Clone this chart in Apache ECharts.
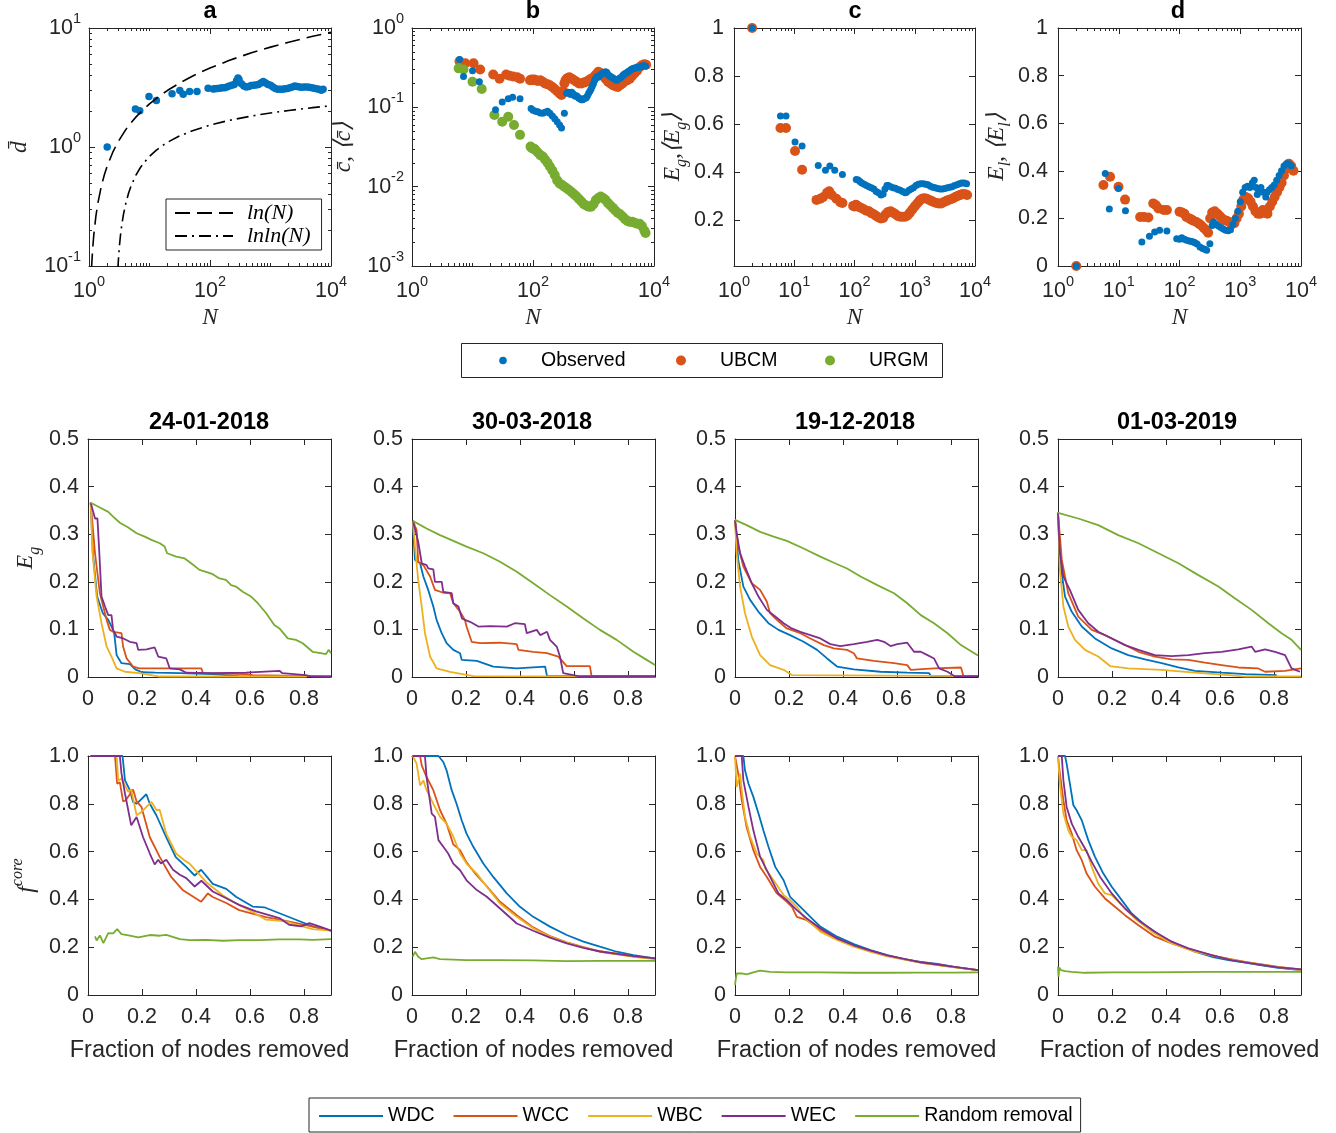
<!DOCTYPE html>
<html><head><meta charset="utf-8">
<script src="https://cdn.jsdelivr.net/npm/echarts@6/dist/echarts.min.js"></script>
<style>html,body{margin:0;padding:0;background:#fff}#c{width:1336px;height:1133px}</style>
</head><body><div id="c"></div><script>
// ---------------- DATA ----------------
// panel a: mean shortest path length vs N
const aObserved = [[2,1.0],[5.85,2.09],[6.9,2.02],[9.8,2.66],[13,2.46],[23.6,2.8],[31.7,2.98],[36,2.78],[46,2.93],[61,2.93],[93,3.12],[113,3.07],
 [120,3.08],[132,3.1],[146,3.12],[158,3.15],[174,3.15],[190,3.2],[209,3.25],[229,3.3],[251,3.35],[275,3.6],[290,3.8],[302,3.7],[331,3.4],[363,3.25],
 [398,3.2],[437,3.22],[479,3.28],[525,3.3],[575,3.32],[631,3.35],[692,3.45],[759,3.55],[832,3.45],[912,3.35],[1000,3.3],[1096,3.2],[1202,3.1],
 [1318,3.06],[1445,3.05],[1585,3.06],[1738,3.08],[1905,3.1],[2089,3.15],[2291,3.2],[2512,3.25],[2754,3.22],[3020,3.2],[3311,3.18],[3631,3.2],
 [3981,3.2],[4365,3.18],[4786,3.15],[5248,3.12],[5754,3.08],[6310,3.05],[6918,3.0],[7400,3.05]];
const lnSamplesN = [1.1,1.15,1.2,1.3,1.4,1.6,1.8,2,2.5,3,4,5,6,8,10,15,20,30,50,70,100,200,300,500,1000,2000,5000,10000];
const lnlnSamplesN = [3.0,3.02,3.05,3.1,3.15,3.2,3.3,3.4,3.5,3.7,4,4.5,5,6,7,8,10,13,16,20,30,50,100,200,500,1000,2000,5000,10000];

// panel b: clustering
const bObserved = [[6.1,0.40],[7.1,0.245],[10,0.29],[13,0.21],[24,0.093],[31,0.117],[39,0.128],[46,0.134],[61,0.128],
 [93,0.097],[100,0.092],[110,0.089],[120,0.088],[132,0.085],[145,0.084],[158,0.087],[174,0.089],[190,0.084],[209,0.078],[229,0.072],[251,0.066],
 [275,0.06],[296,0.055],[330,0.084],[360,0.15],[380,0.155],[398,0.15],[420,0.145],[437,0.155],[460,0.148],[479,0.142],[500,0.138],[525,0.14],
 [550,0.135],[575,0.13],[600,0.128],[631,0.125],[660,0.125],[692,0.128],[725,0.13],[759,0.132],[795,0.14],[832,0.15],[870,0.16],[912,0.17],
 [955,0.185],[1000,0.2],[1047,0.22],[1096,0.235],[1148,0.245],[1202,0.24],[1259,0.25],[1318,0.26],[1380,0.265],[1445,0.27],[1514,0.275],
 [1585,0.28],[1660,0.275],[1738,0.26],[1820,0.25],[1905,0.245],[1995,0.24],[2089,0.235],[2188,0.23],[2291,0.225],[2399,0.22],[2512,0.225],
 [2630,0.23],[2754,0.235],[2884,0.24],[3020,0.25],[3162,0.26],[3311,0.265],[3467,0.27],[3631,0.275],[3802,0.285],[3981,0.29],[4169,0.3],
 [4365,0.305],[4571,0.31],[4786,0.31],[5012,0.315],[5248,0.32],[5495,0.315],[5754,0.32],[6026,0.325],[6310,0.33],[6607,0.335],[6918,0.335],[7244,0.33]];
const bUBCM = [[6.1,0.38],[7.6,0.36],[10.4,0.36],[13.4,0.30],[22,0.26],[28,0.23],[36,0.26],[41,0.25],[47,0.245],[55,0.24],[61,0.23],
 [89,0.22],[95,0.225],[100,0.22],[105,0.225],[110,0.22],[120,0.215],[132,0.22],[145,0.21],[158,0.2],[174,0.195],[190,0.19],[209,0.18],[229,0.17],
 [251,0.16],[275,0.15],[296,0.143],[315,0.16],[330,0.2],[345,0.22],[363,0.23],[380,0.235],[398,0.24],[437,0.23],[479,0.22],[525,0.21],[575,0.2],
 [631,0.2],[692,0.205],[759,0.21],[832,0.22],[912,0.23],[1000,0.24],[1096,0.26],[1202,0.28],[1318,0.27],[1445,0.25],[1585,0.23],[1738,0.21],
 [1905,0.2],[2089,0.19],[2291,0.185],[2512,0.18],[2754,0.19],[3020,0.2],[3311,0.215],[3631,0.22],[3981,0.23],[4365,0.25],[4786,0.27],[5248,0.29],
 [5754,0.32],[6310,0.34],[6918,0.35],[7400,0.345]];
const bURGM = [[5.9,0.31],[7.1,0.30],[10,0.21],[14.2,0.17],[23,0.08],[31,0.066],[39,0.076],[48.5,0.06],[61,0.045],
 [91,0.032],[95,0.031],[100,0.03],[105,0.03],[110,0.029],[120,0.027],[132,0.025],[145,0.024],[158,0.022],[174,0.02],[190,0.018],[209,0.016],
 [229,0.014],[251,0.012],[275,0.011],[302,0.0105],[331,0.01],[363,0.0095],[398,0.009],[437,0.0085],[479,0.008],[525,0.0075],[575,0.007],
 [631,0.0065],[692,0.006],[759,0.0058],[832,0.0056],[912,0.0056],[1000,0.006],[1096,0.0068],[1202,0.0072],[1318,0.0075],[1445,0.0072],
 [1585,0.0068],[1738,0.0062],[1905,0.0058],[2089,0.0054],[2291,0.005],[2512,0.0047],[2754,0.0045],[3020,0.0042],[3311,0.0039],[3631,0.0037],
 [3981,0.0036],[4365,0.0036],[4786,0.0035],[5248,0.0034],[5754,0.0034],[6310,0.0032],[6918,0.0028],[7244,0.0026]];

// panel c: global efficiency
const cObserved = [[2,1.0],[5.9,0.634],[7.3,0.634],[10.3,0.526],[13.5,0.509],[25,0.428],[33,0.408],[39,0.426],[47,0.408],[63,0.391],
 [107,0.37],[115,0.368],[123,0.362],[132,0.355],[145,0.35],[158,0.345],[174,0.34],[190,0.335],[209,0.33],[229,0.32],[251,0.315],[275,0.305],
 [299,0.31],[320,0.33],[345,0.345],[363,0.345],[398,0.34],[437,0.335],[479,0.333],[525,0.328],[575,0.325],[631,0.32],[692,0.315],[730,0.317],
 [800,0.325],[870,0.33],[950,0.335],[1047,0.345],[1148,0.35],[1259,0.352],[1380,0.352],[1514,0.35],[1660,0.348],[1820,0.342],[1995,0.338],
 [2188,0.335],[2399,0.332],[2630,0.33],[2884,0.33],[3162,0.332],[3467,0.335],[3802,0.338],[4169,0.34],[4571,0.345],[5012,0.348],[5495,0.352],
 [6026,0.355],[6607,0.355],[7244,0.352]];
const cUBCM = [[2,1.0],[5.9,0.584],[7.3,0.584],[10.3,0.488],[13.5,0.41],[23.4,0.285],[27,0.29],[30,0.296],[35,0.315],[38,0.321],[42,0.305],
 [50,0.29],[58,0.275],[63,0.272],[95,0.26],[100,0.258],[105,0.265],[110,0.262],[120,0.255],[132,0.25],[145,0.245],[158,0.24],[174,0.238],
 [190,0.23],[209,0.225],[229,0.218],[251,0.212],[275,0.208],[299,0.21],[330,0.225],[363,0.235],[398,0.238],[437,0.232],[479,0.225],[525,0.218],
 [575,0.215],[631,0.215],[692,0.215],[759,0.22],[832,0.232],[912,0.245],[1000,0.258],[1096,0.27],[1202,0.282],[1318,0.29],[1445,0.292],
 [1585,0.29],[1738,0.285],[1905,0.28],[2089,0.275],[2291,0.272],[2512,0.27],[2754,0.27],[3020,0.275],[3311,0.28],[3631,0.285],[3981,0.288],
 [4365,0.292],[4786,0.298],[5248,0.302],[5754,0.306],[6310,0.31],[6918,0.308],[7400,0.305]];

// panel d: local efficiency
const dObserved = [[2,0],[6,0.389],[7,0.239],[9.9,0.326],[12.9,0.232],[24,0.101],[32,0.125],[39,0.143],[47,0.15],[62,0.147],
 [90,0.115],[100,0.112],[109,0.119],[120,0.112],[131,0.108],[145,0.105],[158,0.103],[169,0.101],[180,0.098],[195,0.092],[218,0.08],[240,0.074],
 [260,0.07],[280,0.066],[316,0.094],[345,0.17],[363,0.185],[398,0.175],[437,0.168],[479,0.162],[525,0.155],[575,0.15],[631,0.148],[692,0.152],
 [759,0.175],[832,0.2],[912,0.23],[1000,0.27],[1096,0.31],[1202,0.33],[1318,0.335],[1445,0.33],[1585,0.35],[1700,0.36],[1820,0.33],[1905,0.3],
 [2000,0.31],[2189,0.33],[2400,0.31],[2630,0.29],[2754,0.31],[3020,0.32],[3311,0.33],[3631,0.34],[3981,0.36],[4365,0.38],[4786,0.4],[5248,0.42],
 [5754,0.43],[6310,0.43],[6918,0.42]];
const dUBCM = [[2,0],[5.6,0.34],[7.2,0.375],[9.9,0.333],[12.7,0.279],[22.5,0.206],[26,0.206],[30.7,0.204],[37,0.263],[41,0.255],[45,0.242],
 [55,0.235],[62,0.235],[100,0.228],[110,0.225],[120,0.22],[130,0.206],[145,0.2],[158,0.195],[170,0.19],[190,0.185],[209,0.178],[229,0.17],
 [251,0.16],[275,0.15],[296,0.14],[320,0.2],[345,0.225],[380,0.23],[420,0.22],[460,0.21],[500,0.2],[550,0.192],[600,0.19],[660,0.185],[720,0.175],
 [800,0.18],[870,0.2],[950,0.22],[1040,0.25],[1130,0.28],[1230,0.29],[1350,0.285],[1480,0.27],[1620,0.25],[1780,0.23],[1950,0.22],[2140,0.22],
 [2350,0.235],[2570,0.225],[2800,0.22],[3070,0.25],[3360,0.27],[3680,0.29],[4030,0.31],[4400,0.33],[4800,0.35],[5250,0.38],[5750,0.41],
 [6300,0.43],[6900,0.42],[7500,0.4]];

// middle row: E_g vs fraction removed
const e1WDC = [[0.01,0.366],[0.018,0.26],[0.034,0.169],[0.055,0.134],[0.075,0.12],[0.088,0.105],[0.097,0.092],[0.106,0.046],[0.124,0.029],[0.155,0.027],[0.175,0.016],[0.2,0.01],[0.25,0.009],[0.34,0.008],[0.46,0.006],[0.56,0.002],[0.6,0.001]];
const e1WCC = [[0.01,0.366],[0.026,0.26],[0.044,0.176],[0.069,0.12],[0.081,0.099],[0.093,0.095],[0.124,0.092],[0.13,0.064],[0.143,0.039],[0.167,0.022],[0.19,0.018],[0.29,0.018],[0.296,0.015],[0.42,0.018],[0.426,0.008],[0.585,0.006],[0.61,0.004],[0.83,0.002],[0.9,0.001]];
const e1WBC = [[0.01,0.366],[0.017,0.26],[0.032,0.169],[0.05,0.113],[0.069,0.064],[0.087,0.043],[0.106,0.018],[0.137,0.011],[0.19,0.008],[0.266,0.001],[0.81,0.001]];
const e1WEC = [[0.01,0.366],[0.026,0.333],[0.035,0.333],[0.042,0.26],[0.05,0.169],[0.063,0.148],[0.075,0.13],[0.087,0.13],[0.093,0.099],[0.106,0.085],[0.131,0.081],[0.155,0.074],[0.18,0.071],[0.186,0.057],[0.217,0.058],[0.247,0.062],[0.26,0.043],[0.29,0.039],[0.303,0.018],[0.34,0.016],[0.364,0.009],[0.462,0.008],[0.585,0.009],[0.709,0.013],[0.72,0.008],[0.806,0.004],[0.83,0.001],[0.9,0.001]];
const e1Random = [[0.01,0.366],[0.044,0.356],[0.075,0.347],[0.093,0.337],[0.118,0.324],[0.149,0.314],[0.18,0.302],[0.21,0.295],[0.235,0.288],[0.266,0.281],[0.284,0.274],[0.293,0.26],[0.327,0.253],[0.358,0.249],[0.382,0.239],[0.413,0.225],[0.437,0.221],[0.462,0.216],[0.487,0.207],[0.511,0.204],[0.53,0.193],[0.548,0.19],[0.573,0.179],[0.604,0.169],[0.629,0.155],[0.66,0.134],[0.69,0.109],[0.709,0.102],[0.74,0.081],[0.77,0.078],[0.795,0.071],[0.832,0.053],[0.862,0.05],[0.881,0.048],[0.891,0.057],[0.9,0.05]];

const e2WDC = [[0.003,0.328],[0.011,0.246],[0.03,0.239],[0.042,0.211],[0.06,0.183],[0.079,0.148],[0.091,0.12],[0.11,0.092],[0.128,0.071],[0.153,0.057],[0.178,0.05],[0.184,0.036],[0.24,0.034],[0.301,0.022],[0.388,0.018],[0.493,0.022],[0.5,0.002],[0.61,0.002]];
const e2WCC = [[0.003,0.328],[0.017,0.309],[0.023,0.242],[0.042,0.235],[0.067,0.211],[0.085,0.183],[0.116,0.177],[0.141,0.176],[0.153,0.155],[0.178,0.137],[0.196,0.12],[0.202,0.106],[0.221,0.074],[0.252,0.071],[0.326,0.072],[0.388,0.069],[0.394,0.057],[0.449,0.053],[0.5,0.05],[0.542,0.043],[0.573,0.023],[0.659,0.023],[0.665,0.002],[0.9,0.002]];
const e2WBC = [[0.003,0.328],[0.011,0.274],[0.023,0.204],[0.036,0.148],[0.048,0.092],[0.067,0.043],[0.091,0.018],[0.141,0.011],[0.227,0.002],[0.9,0.001]];
const e2WEC = [[0.003,0.328],[0.015,0.302],[0.023,0.284],[0.03,0.26],[0.036,0.239],[0.054,0.235],[0.06,0.228],[0.079,0.226],[0.085,0.2],[0.11,0.2],[0.116,0.179],[0.147,0.176],[0.153,0.155],[0.172,0.148],[0.185,0.123],[0.196,0.12],[0.215,0.116],[0.246,0.106],[0.289,0.107],[0.351,0.106],[0.381,0.113],[0.418,0.111],[0.425,0.092],[0.462,0.099],[0.475,0.088],[0.5,0.095],[0.511,0.078],[0.536,0.064],[0.548,0.043],[0.56,0.008],[0.616,0.002],[0.9,0.002]];
const e2Random = [[0.003,0.328],[0.054,0.312],[0.104,0.298],[0.153,0.286],[0.202,0.274],[0.264,0.26],[0.326,0.242],[0.388,0.221],[0.449,0.197],[0.511,0.172],[0.573,0.148],[0.635,0.123],[0.696,0.099],[0.758,0.078],[0.82,0.053],[0.869,0.036],[0.9,0.025]];

const e3WDC = [[0,0.33],[0.012,0.246],[0.031,0.19],[0.056,0.162],[0.087,0.137],[0.124,0.113],[0.161,0.099],[0.204,0.088],[0.254,0.074],[0.304,0.057],[0.341,0.039],[0.378,0.022],[0.44,0.016],[0.539,0.011],[0.638,0.009],[0.719,0.008],[0.725,0.002],[0.8,0.002]];
const e3WCC = [[0,0.33],[0.012,0.274],[0.031,0.232],[0.062,0.197],[0.093,0.183],[0.118,0.158],[0.13,0.134],[0.155,0.12],[0.192,0.102],[0.242,0.092],[0.279,0.081],[0.329,0.067],[0.366,0.06],[0.415,0.057],[0.44,0.05],[0.452,0.039],[0.514,0.034],[0.589,0.029],[0.638,0.025],[0.651,0.015],[0.737,0.018],[0.837,0.02],[0.846,0.002],[0.9,0.002]];
const e3WBC = [[0,0.33],[0.006,0.26],[0.019,0.19],[0.037,0.134],[0.062,0.085],[0.093,0.046],[0.13,0.025],[0.18,0.015],[0.211,0.004],[0.9,0.002]];
const e3WEC = [[0,0.33],[0.006,0.302],[0.019,0.26],[0.037,0.232],[0.062,0.197],[0.087,0.169],[0.118,0.141],[0.149,0.127],[0.18,0.113],[0.21,0.102],[0.242,0.095],[0.279,0.088],[0.316,0.081],[0.353,0.069],[0.39,0.065],[0.44,0.069],[0.489,0.074],[0.527,0.078],[0.552,0.074],[0.576,0.065],[0.601,0.069],[0.638,0.072],[0.663,0.053],[0.688,0.053],[0.713,0.046],[0.737,0.039],[0.756,0.018],[0.787,0.011],[0.812,0.002],[0.9,0.002]];
const e3Random = [[0,0.33],[0.043,0.319],[0.093,0.305],[0.143,0.295],[0.192,0.286],[0.254,0.27],[0.316,0.253],[0.366,0.24],[0.415,0.228],[0.465,0.211],[0.527,0.193],[0.589,0.176],[0.638,0.155],[0.688,0.13],[0.737,0.113],[0.787,0.092],[0.837,0.067],[0.9,0.045]];

const e4WDC = [[0,0.345],[0.007,0.246],[0.026,0.169],[0.051,0.137],[0.088,0.106],[0.137,0.081],[0.199,0.06],[0.26,0.046],[0.322,0.037],[0.384,0.029],[0.446,0.02],[0.507,0.013],[0.606,0.009],[0.693,0.006],[0.81,0.004]];
const e4WCC = [[0,0.345],[0.014,0.246],[0.038,0.176],[0.075,0.127],[0.125,0.099],[0.174,0.088],[0.236,0.071],[0.298,0.053],[0.359,0.043],[0.421,0.037],[0.483,0.036],[0.544,0.03],[0.606,0.025],[0.668,0.02],[0.742,0.018],[0.767,0.011],[0.841,0.013],[0.9,0.018]];
const e4WBC = [[0,0.345],[0.007,0.225],[0.02,0.148],[0.038,0.106],[0.063,0.078],[0.1,0.057],[0.149,0.043],[0.193,0.023],[0.26,0.018],[0.384,0.015],[0.507,0.009],[0.631,0.004],[0.693,0.001],[0.9,0.001]];
const e4WEC = [[0,0.345],[0.007,0.26],[0.02,0.211],[0.044,0.183],[0.075,0.141],[0.112,0.113],[0.149,0.095],[0.199,0.081],[0.248,0.067],[0.298,0.057],[0.359,0.046],[0.421,0.044],[0.483,0.046],[0.544,0.05],[0.606,0.053],[0.668,0.058],[0.717,0.064],[0.73,0.053],[0.767,0.058],[0.804,0.053],[0.841,0.046],[0.865,0.018],[0.896,0.011]];
const e4Random = [[0,0.345],[0.075,0.333],[0.149,0.319],[0.223,0.298],[0.298,0.281],[0.372,0.26],[0.446,0.239],[0.52,0.214],[0.594,0.19],[0.656,0.165],[0.717,0.141],[0.779,0.113],[0.828,0.092],[0.865,0.078],[0.9,0.057]];

// bottom row: f_core vs fraction removed
const f1WDC = [[0.01,1.0],[0.128,1.0],[0.137,0.898],[0.155,0.857],[0.167,0.808],[0.18,0.80],[0.216,0.84],[0.229,0.80],[0.254,0.75],[0.29,0.66],[0.325,0.577],[0.364,0.536],[0.395,0.50],[0.419,0.524],[0.462,0.465],[0.512,0.444],[0.548,0.411],[0.61,0.37],[0.653,0.367],[0.709,0.342],[0.77,0.315],[0.832,0.287],[0.9,0.269]];
const f1WCC = [[0.01,1.0],[0.1,1.0],[0.108,0.884],[0.118,0.89],[0.13,0.81],[0.14,0.815],[0.167,0.86],[0.18,0.81],[0.198,0.787],[0.229,0.66],[0.266,0.577],[0.308,0.494],[0.352,0.438],[0.39,0.411],[0.419,0.39],[0.444,0.425],[0.462,0.41],[0.512,0.385],[0.56,0.355],[0.598,0.344],[0.659,0.326],[0.733,0.31],[0.807,0.292],[0.9,0.269]];
const f1WBC = [[0.01,1.0],[0.106,1.0],[0.112,0.898],[0.124,0.905],[0.149,0.85],[0.16,0.86],[0.18,0.752],[0.198,0.766],[0.235,0.808],[0.254,0.773],[0.265,0.776],[0.29,0.674],[0.327,0.591],[0.358,0.563],[0.377,0.549],[0.438,0.472],[0.5,0.416],[0.548,0.383],[0.61,0.347],[0.659,0.315],[0.733,0.308],[0.782,0.29],[0.832,0.276],[0.9,0.269]];
const f1WEC = [[0.01,1.0],[0.118,1.0],[0.124,0.927],[0.137,0.843],[0.16,0.71],[0.18,0.745],[0.204,0.66],[0.229,0.592],[0.247,0.546],[0.26,0.566],[0.27,0.55],[0.29,0.566],[0.315,0.524],[0.34,0.503],[0.364,0.489],[0.395,0.454],[0.42,0.478],[0.462,0.433],[0.512,0.405],[0.56,0.377],[0.622,0.35],[0.709,0.322],[0.745,0.294],[0.789,0.287],[0.82,0.301],[0.856,0.287],[0.9,0.269]];
const f1Random = [[0.026,0.245],[0.032,0.228],[0.044,0.249],[0.057,0.217],[0.075,0.259],[0.093,0.258],[0.108,0.276],[0.124,0.255],[0.155,0.248],[0.186,0.241],[0.229,0.251],[0.266,0.248],[0.29,0.252],[0.34,0.234],[0.377,0.23],[0.438,0.231],[0.5,0.227],[0.56,0.23],[0.635,0.23],[0.709,0.233],[0.782,0.233],[0.832,0.231],[0.9,0.234]];

const f2WDC = [[0.003,1.0],[0.098,1.0],[0.116,0.975],[0.128,0.94],[0.147,0.857],[0.165,0.80],[0.184,0.731],[0.202,0.675],[0.227,0.62],[0.264,0.55],[0.301,0.494],[0.351,0.425],[0.4,0.369],[0.449,0.327],[0.511,0.286],[0.573,0.251],[0.635,0.223],[0.696,0.202],[0.758,0.181],[0.82,0.167],[0.9,0.153]];
const f2WCC = [[0.003,1.0],[0.03,1.0],[0.036,0.961],[0.054,0.912],[0.079,0.857],[0.104,0.773],[0.128,0.717],[0.153,0.63],[0.178,0.606],[0.202,0.555],[0.24,0.5],[0.277,0.455],[0.326,0.39],[0.388,0.334],[0.449,0.283],[0.511,0.246],[0.573,0.22],[0.635,0.2],[0.696,0.183],[0.82,0.162],[0.9,0.152]];
const f2WBC = [[0.003,1.0],[0.017,0.968],[0.03,0.877],[0.042,0.898],[0.054,0.857],[0.079,0.80],[0.104,0.745],[0.128,0.717],[0.153,0.662],[0.178,0.592],[0.202,0.55],[0.24,0.508],[0.277,0.453],[0.326,0.383],[0.388,0.327],[0.449,0.279],[0.511,0.244],[0.573,0.219],[0.635,0.199],[0.696,0.181],[0.82,0.16],[0.9,0.15]];
const f2WEC = [[0.003,1.0],[0.048,1.0],[0.054,0.912],[0.073,0.759],[0.085,0.745],[0.098,0.648],[0.116,0.62],[0.134,0.592],[0.153,0.55],[0.178,0.522],[0.202,0.48],[0.24,0.439],[0.277,0.411],[0.326,0.362],[0.388,0.299],[0.449,0.269],[0.511,0.24],[0.573,0.216],[0.635,0.197],[0.696,0.182],[0.82,0.163],[0.9,0.153]];
const f2Random = [[0.003,0.16],[0.011,0.181],[0.023,0.16],[0.036,0.15],[0.054,0.153],[0.079,0.157],[0.104,0.15],[0.202,0.146],[0.326,0.146],[0.449,0.145],[0.573,0.142],[0.696,0.143],[0.9,0.143]];

const f3WDC = [[0,1.0],[0.031,1.0],[0.037,0.94],[0.05,0.884],[0.068,0.829],[0.087,0.759],[0.105,0.689],[0.124,0.62],[0.149,0.536],[0.18,0.48],[0.204,0.411],[0.242,0.369],[0.279,0.327],[0.316,0.286],[0.378,0.244],[0.44,0.213],[0.502,0.188],[0.564,0.167],[0.626,0.15],[0.688,0.139],[0.75,0.13],[0.812,0.118],[0.9,0.104]];
const f3WCC = [[0,1.0],[0.012,0.926],[0.025,0.815],[0.043,0.703],[0.068,0.606],[0.093,0.536],[0.118,0.494],[0.155,0.425],[0.192,0.39],[0.211,0.369],[0.229,0.327],[0.266,0.313],[0.316,0.272],[0.378,0.233],[0.44,0.205],[0.564,0.164],[0.688,0.136],[0.812,0.117],[0.9,0.104]];
const f3WBC = [[0,1.0],[0.006,0.87],[0.019,0.926],[0.025,0.857],[0.037,0.745],[0.056,0.662],[0.081,0.592],[0.105,0.564],[0.112,0.53],[0.143,0.48],[0.18,0.418],[0.204,0.397],[0.229,0.369],[0.254,0.327],[0.316,0.265],[0.378,0.23],[0.44,0.202],[0.502,0.18],[0.564,0.162],[0.688,0.135],[0.812,0.116],[0.9,0.104]];
const f3WEC = [[0,1.0],[0.025,1.0],[0.031,0.898],[0.05,0.787],[0.068,0.689],[0.093,0.578],[0.124,0.508],[0.161,0.425],[0.192,0.397],[0.229,0.355],[0.266,0.32],[0.316,0.279],[0.378,0.237],[0.44,0.208],[0.502,0.186],[0.564,0.166],[0.688,0.137],[0.812,0.118],[0.9,0.104]];
const f3Random = [[0,0.042],[0.006,0.09],[0.012,0.097],[0.025,0.09],[0.043,0.086],[0.068,0.095],[0.093,0.102],[0.13,0.097],[0.192,0.095],[0.316,0.095],[0.44,0.093],[0.564,0.093],[0.688,0.094],[0.812,0.094],[0.9,0.095]];

const f4WDC = [[0,1.0],[0.026,1.0],[0.032,0.968],[0.044,0.884],[0.057,0.794],[0.069,0.773],[0.088,0.731],[0.112,0.648],[0.137,0.578],[0.168,0.508],[0.199,0.453],[0.236,0.397],[0.273,0.341],[0.322,0.292],[0.384,0.244],[0.446,0.209],[0.507,0.181],[0.569,0.16],[0.631,0.146],[0.693,0.135],[0.754,0.124],[0.816,0.114],[0.9,0.104]];
const f4WCC = [[0,1.0],[0.007,0.926],[0.02,0.815],[0.032,0.731],[0.051,0.675],[0.069,0.606],[0.088,0.564],[0.106,0.508],[0.137,0.453],[0.174,0.404],[0.211,0.369],[0.248,0.334],[0.298,0.292],[0.359,0.244],[0.421,0.216],[0.507,0.185],[0.594,0.16],[0.693,0.139],[0.816,0.118],[0.9,0.107]];
const f4WBC = [[0,1.0],[0.007,0.884],[0.02,0.759],[0.038,0.689],[0.051,0.662],[0.069,0.648],[0.088,0.606],[0.106,0.606],[0.125,0.536],[0.149,0.466],[0.174,0.425],[0.199,0.418],[0.236,0.376],[0.285,0.32],[0.347,0.265],[0.421,0.216],[0.507,0.181],[0.594,0.16],[0.693,0.138],[0.816,0.117],[0.9,0.104]];
const f4WEC = [[0,1.0],[0.014,1.0],[0.02,0.898],[0.032,0.787],[0.051,0.717],[0.075,0.662],[0.1,0.613],[0.125,0.557],[0.156,0.494],[0.199,0.425],[0.248,0.362],[0.298,0.313],[0.359,0.265],[0.421,0.223],[0.483,0.195],[0.569,0.167],[0.643,0.146],[0.717,0.132],[0.816,0.116],[0.9,0.107]];
const f4Random = [[0,0.118],[0.002,0.077],[0.005,0.115],[0.011,0.104],[0.026,0.1],[0.051,0.097],[0.1,0.093],[0.199,0.095],[0.322,0.095],[0.446,0.096],[0.569,0.097],[0.693,0.097],[0.9,0.097]];

const panelLetters = ['a','b','c','d'];
const dateTitles = ['24-01-2018','30-03-2018','19-12-2018','01-03-2019'];
const fracTicks = [0,0.2,0.4,0.6,0.8];
const egTicks = [0,0.1,0.2,0.3,0.4,0.5];
const fcoreTicks = [0,0.2,0.4,0.6,0.8,1.0];
const effTicks = [0,0.2,0.4,0.6,0.8,1];
const scatterNames = ['Observed','UBCM','URGM'];
const lineNames = ['WDC','WCC','WBC','WEC','Random removal'];

// ---------------- STYLE / BUILD ----------------
const AX = '#262626';
const SANS = '"Liberation Sans", Arial, Helvetica, sans-serif';
const SERIF = '"Liberation Serif", "Times New Roman", serif';
const COL = {blue:'#0072BD', orange:'#D95319', yellow:'#EDB120', purple:'#7E2F8E', green:'#77AC30'};
const TICKFS = 21.5, LABFS = 23.5, LEGFS = 19.5;

const logRich = {
  b: {fontSize: TICKFS, fontFamily: SANS, color: AX, lineHeight: 34},
  s: {fontSize: 14.5, fontFamily: SANS, color: AX, verticalAlign: 'top', lineHeight: 15}
};
const nameRich = {
  i: {fontFamily: SERIF, fontStyle: 'italic', fontSize: LABFS, color: AX, lineHeight: 34},
  n: {fontFamily: SERIF, fontSize: LABFS, color: AX, lineHeight: 34},
  sb: {fontFamily: SERIF, fontStyle: 'italic', fontSize: 16, color: AX, verticalAlign: 'bottom', lineHeight: 16},
  sp: {fontFamily: SERIF, fontStyle: 'italic', fontSize: 16, color: AX, verticalAlign: 'top', lineHeight: 16}
};
const logFmt = v => '{b|10}{s|' + Math.round(v) + '}';
const linFmt = v => (Math.abs(v) < 1e-9 ? '0' : v.toFixed(1));
const effFmt = v => (Math.abs(v) < 1e-9 ? '0' : (Math.abs(v - 1) < 1e-9 ? '1' : v.toFixed(1)));

function logMinor(d0, d1, skip) {
  const out = [];
  for (let d = d0; d < d1; d++) {
    for (let k = 2; k <= 9; k++) out.push(d + Math.log10(k));
    if (d > d0 && skip.indexOf(d) >= 0) out.push(d);
  }
  return out;
}

const grids = [], xAxes = [], yAxes = [], series = [], graphics = [];

function axisSet(list, dim, gi, ax) {
  const main = list.length;
  const isX = dim === 'x';
  const base = {
    type: 'value', gridIndex: gi, min: ax.min, max: ax.max,
    splitLine: {show: false}, splitArea: {show: false}
  };
  list.push(Object.assign({}, base, {
    position: isX ? 'bottom' : 'left',
    axisLine: {show: true, onZero: false, lineStyle: {color: AX, width: 1}},
    axisTick: {show: true, inside: true, length: 6, customValues: ax.ticks, lineStyle: {color: AX, width: 1}},
    axisLabel: {show: true, customValues: ax.ticks, formatter: ax.fmt, color: AX, fontSize: TICKFS,
      fontFamily: SANS, margin: ax.margin, rich: ax.log ? logRich : undefined, hideOverlap: false},
    name: ax.name || '', nameLocation: 'middle', nameGap: ax.nameGap || 30, nameRotate: isX ? 0 : 90,
    nameTextStyle: Object.assign({color: AX, fontFamily: SERIF, fontStyle: 'italic', fontSize: LABFS, rich: nameRich}, ax.nameStyle || {})
  }));
  list.push(Object.assign({}, base, {
    position: isX ? 'top' : 'right',
    axisLine: {show: true, onZero: false, lineStyle: {color: AX, width: 1}},
    axisTick: {show: true, inside: true, length: 6, customValues: ax.ticks, lineStyle: {color: AX, width: 1}},
    axisLabel: {show: false}
  }));
  if (ax.minor) {
    [0, 1].forEach(j => {
      list.push(Object.assign({}, base, {
        position: isX ? (j ? 'top' : 'bottom') : (j ? 'right' : 'left'),
        axisLine: {show: false, onZero: false},
        axisTick: {show: true, inside: true, length: 3, customValues: ax.minor, lineStyle: {color: AX, width: 1}},
        axisLabel: {show: false}
      }));
    });
  }
  return main;
}

function panel(box, xa, ya) {
  const gi = grids.length;
  grids.push({left: box[0], top: box[1], width: box[2], height: box[3], containLabel: false, show: false});
  return {xi: axisSet(xAxes, 'x', gi, xa), yi: axisSet(yAxes, 'y', gi, ya)};
}

function scatter(p, name, data, color, size, tx, ty) {
  series.push({type: 'scatter', name, xAxisIndex: p.xi, yAxisIndex: p.yi, symbol: 'circle', symbolSize: size,
    itemStyle: {color, opacity: 1}, silent: true, clip: true,
    data: data.map(d => [tx(d[0]), ty(d[1])])});
}
function line(p, name, data, color, width, type) {
  series.push({type: 'line', name, xAxisIndex: p.xi, yAxisIndex: p.yi, symbol: 'none', showSymbol: false,
    lineStyle: {color, width, type: type || 'solid'}, itemStyle: {color}, silent: true, clip: true, data});
}
const L = v => Math.log10(v), I = v => v;

// top row
const topY = 28, topH = 238;
const NLabel = {name: 'N', nameGap: 40};
const xLogA = Object.assign({min: 0, max: 4, ticks: [0, 2, 4], fmt: logFmt, log: true, margin: 8,
  minor: logMinor(0, 4, [1, 3])}, NLabel);
const xLogC = Object.assign({min: 0, max: 4, ticks: [0, 1, 2, 3, 4], fmt: logFmt, log: true, margin: 8,
  minor: logMinor(0, 4, [])}, NLabel);

const pa = panel([89, topY, 242, topH], xLogA,
  {min: -1, max: 1, ticks: [-1, 0, 1], fmt: logFmt, log: true, margin: 8, minor: logMinor(-1, 1, []),
   name: '{i|d\u0304}', nameGap: 52});
line(pa, 'ln(N)', lnSamplesN.map(n => [L(n), L(Math.log(n))]), '#000', 1.6, [15, 7]);
line(pa, 'lnln(N)', lnlnSamplesN.map(n => [L(n), L(Math.log(Math.log(n)))]), '#000', 1.6, [12, 5, 2, 5]);
scatter(pa, 'Observed', aObserved, COL.blue, 7.5, L, L);

const pb = panel([412, topY, 242, topH], xLogA,
  {min: -3, max: 0, ticks: [-3, -2, -1, 0], fmt: logFmt, log: true, margin: 8, minor: logMinor(-3, 0, []),
   name: '{i|c\u0304}{n|, \u27E8}{i|c\u0304}{n|\u27E9}', nameGap: 51});
scatter(pb, 'UBCM', bUBCM, COL.orange, 10, L, L);
scatter(pb, 'URGM', bURGM, COL.green, 10, L, L);
scatter(pb, 'Observed', bObserved, COL.blue, 7, L, L);

const pc = panel([734, topY, 241, topH], xLogC,
  {min: 0.01, max: 1, ticks: [0.2, 0.4, 0.6, 0.8, 1], fmt: effFmt, margin: 10,
   name: '{i|E}{sb|g}{n|,\u27E8}{i|E}{sb|g}{n|\u27E9}', nameGap: 33});
scatter(pc, 'UBCM', cUBCM, COL.orange, 10, L, I);
scatter(pc, 'Observed', cObserved, COL.blue, 7, L, I);

const pd = panel([1058, topY, 243, topH], xLogC,
  {min: 0, max: 1, ticks: effTicks, fmt: effFmt, margin: 10,
   name: '{i|E}{sb|l}{n|, \u27E8}{i|E}{sb|l}{n|\u27E9}', nameGap: 40});
scatter(pd, 'UBCM', dUBCM, COL.orange, 10, L, I);
scatter(pd, 'Observed', dObserved, COL.blue, 7, L, I);

// middle and bottom rows
const colLefts = [88, 412, 735, 1058];
const midData = [[e1WDC, e1WCC, e1WBC, e1WEC, e1Random], [e2WDC, e2WCC, e2WBC, e2WEC, e2Random],
                 [e3WDC, e3WCC, e3WBC, e3WEC, e3Random], [e4WDC, e4WCC, e4WBC, e4WEC, e4Random]];
const botData = [[f1WDC, f1WCC, f1WBC, f1WEC, f1Random], [f2WDC, f2WCC, f2WBC, f2WEC, f2Random],
                 [f3WDC, f3WCC, f3WBC, f3WEC, f3Random], [f4WDC, f4WCC, f4WBC, f4WEC, f4Random]];
const lineCols = [COL.blue, COL.orange, COL.yellow, COL.purple, COL.green];
for (let c = 0; c < 4; c++) {
  const pm = panel([colLefts[c], 439, 243, 238],
    {min: 0, max: 0.9, ticks: fracTicks, fmt: linFmt, margin: 11},
    {min: 0, max: 0.5, ticks: egTicks, fmt: linFmt, margin: 9,
     name: c === 0 ? '{i|E}{sb|g}' : '', nameGap: 45});
  midData[c].forEach((d, k) => line(pm, lineNames[k], d, lineCols[k], 1.8));
  const pbm = panel([colLefts[c], 756, 243, 239],
    {min: 0, max: 0.9, ticks: fracTicks, fmt: linFmt, margin: 11,
     name: 'Fraction of nodes removed', nameGap: 44, nameStyle: {fontFamily: SANS, fontStyle: 'normal', fontSize: LABFS}},
    {min: 0, max: 1, ticks: fcoreTicks, fmt: linFmt, margin: 9,
     name: c === 0 ? '{i|f}{sp|core}' : '', nameGap: 44});
  botData[c].forEach((d, k) => line(pbm, lineNames[k], d, lineCols[k], 1.8));
}

// titles
function gtext(text, x, y, font, align, color) {
  graphics.push({type: 'text', x, y, silent: true, z: 10,
    style: {text, textAlign: align, textVerticalAlign: 'middle', align: align, verticalAlign: 'middle',
      font, fill: color || '#000'}});
}
const TFONT = 'bold 23.5px "Liberation Sans", Arial, sans-serif';
panelLetters.forEach((t, i) => gtext(t, [210, 533, 855, 1178][i], 12, TFONT, 'center'));
dateTitles.forEach((t, i) => gtext(t, [209, 532, 855, 1177][i], 423, TFONT, 'center'));

// scatter legend (boxed) drawn as graphic keys
graphics.push({type: 'rect', shape: {x: 461.5, y: 343.5, width: 481, height: 34}, silent: true, z: 9,
  style: {fill: '#fff', stroke: AX, lineWidth: 1}});
const legKeyX = [503, 681, 830], legTextX = [541, 720, 869], legKeyR = [3.8, 5, 5];
const legCols = [COL.blue, COL.orange, COL.green];
scatterNames.forEach((n, i) => {
  graphics.push({type: 'circle', shape: {cx: legKeyX[i], cy: 360.5, r: legKeyR[i]}, silent: true, z: 10,
    style: {fill: legCols[i]}});
  gtext(n, legTextX[i], 361, LEGFS + 'px "Liberation Sans", Arial, sans-serif', 'left');
});

const option = {
  animation: false,
  backgroundColor: '#fff',
  grid: grids, xAxis: xAxes, yAxis: yAxes, series,
  graphic: graphics,
  legend: [
    {data: lineNames, left: 309, top: 1098, orient: 'horizontal', itemWidth: 64, itemHeight: 14, itemGap: 18,
     padding: [8, 8, 6, 9], borderColor: AX, borderWidth: 1, backgroundColor: '#fff', selectedMode: false,
     itemStyle: {opacity: 0},
     textStyle: {fontSize: LEGFS, fontFamily: SANS, color: '#000'}},
    {data: ['ln(N)', 'lnln(N)'], left: 166, top: 199, orient: 'vertical', itemWidth: 58, itemHeight: 14, itemGap: 1,
     padding: [3, 11, 3, 8], borderColor: AX, borderWidth: 1, backgroundColor: '#fff', selectedMode: false,
     itemStyle: {opacity: 0},
     textStyle: {fontSize: 22, fontFamily: SERIF, fontStyle: 'italic', color: '#000', padding: [0, 0, 0, 9]}}
  ]
};
const chart = echarts.init(document.getElementById('c'), null, {renderer: 'canvas'});
chart.setOption(option);
</script></body></html>
